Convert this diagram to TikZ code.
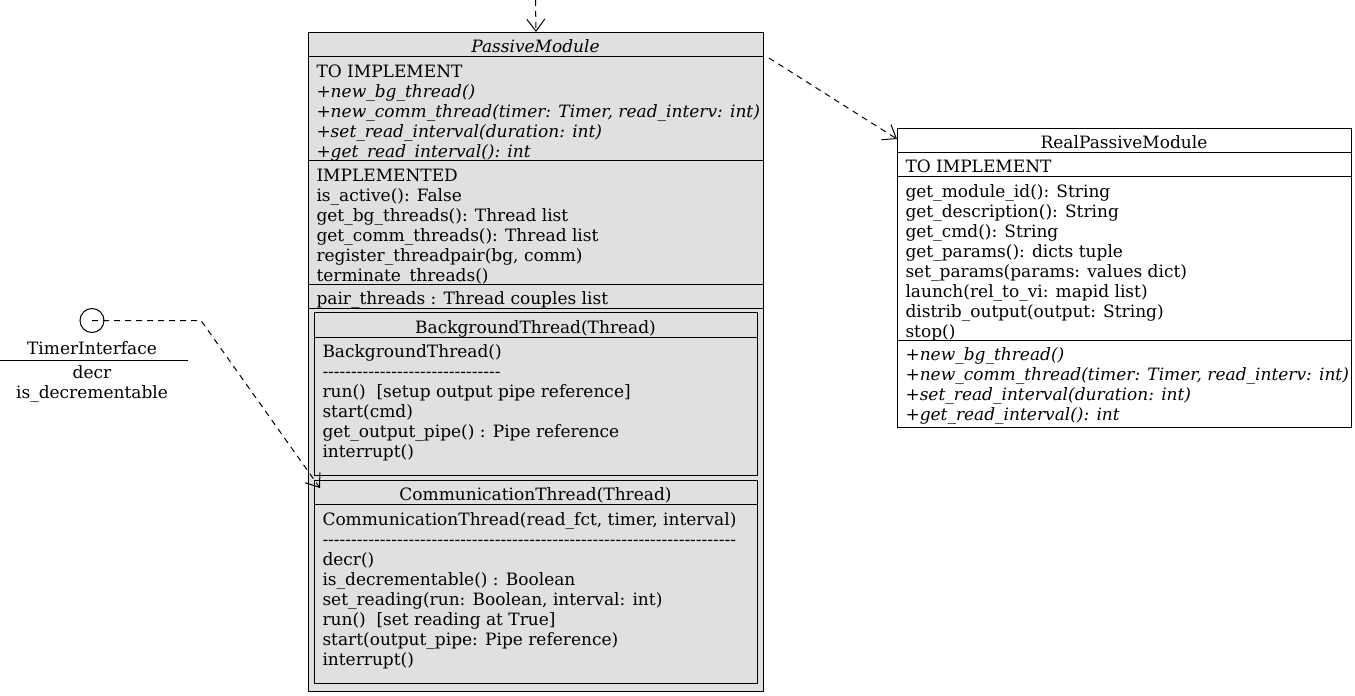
\documentclass[tikz,border=0pt]{standalone}
\usepackage{fontspec}
\newfontfamily\umlfont{DejaVu Serif}
\usetikzlibrary{arrows.meta}
\usetikzlibrary{positioning}
\definecolor{boxgray}{gray}{0.88}
\tikzset{classbox/.style={draw=black, inner sep=0pt, anchor=north west}}
\tikzset{members/.style={inner sep=0pt, anchor=north west, align=left,
    font=\umlfont\fontsize{17}{20}\selectfont}}
\tikzset{classname/.style={inner sep=0pt, anchor=base,
    font=\umlfont\fontsize{17}{20}\selectfont}}
\tikzset{dep/.style={dash pattern=on 6pt off 5pt,
    -{Straight Barb[length=12pt,width=18pt]}}}
\newcommand{\hyphens}[1]{\foreach \k in {1,...,#1}{-\kern0pt}}

\begin{document}
\begin{tikzpicture}[x=1pt,y=-1pt,line width=1pt]
    \useasboundingbox (0,0) rectangle (1355,696);

    % PassiveModule and its nested thread classes
    \node[classbox, fill=boxgray, minimum width=455, minimum height=659] (pm) at (308,32) {};
    \node[classname] (pmname) at (535.5,52) {\itshape PassiveModule};
    \draw (308,56) -- (763,56);
    \node[members] (pmtodo) at (316,63) {\strut TO IMPLEMENT\\
        \itshape +new\_bg\_thread()\\
        \itshape +new\_comm\_thread(timer: Timer, read\_interv: int)\\
        \itshape +set\_read\_interval(duration: int)\\
        \itshape +get\_read\_interval(): int};
    \draw (308,160) -- (763,160);
    \node[members] (pmdone) at (316,167) {\strut IMPLEMENTED\\
        is\_active(): False\\
        get\_bg\_threads(): Thread list\\
        get\_comm\_threads(): Thread list\\
        register\_threadpair(bg, comm)\\
        terminate\_threads()};
    \draw (308,284) -- (763,284);
    \node[members] (pmattr) at (316,290) {\strut pair\_threads : Thread couples list};
    \draw (308,308) -- (763,308);

    \node[classbox, fill=boxgray, minimum width=443, minimum height=163] (bg) at (314,312) {};
    \node[classname] (bgname) at (535.5,333) {BackgroundThread(Thread)};
    \draw (314,337) -- (757,337);
    \node[members] (bgops) at (322,343) {\strut BackgroundThread()\\
        \hyphens{31}\\
        run()\ \ [setup output pipe reference]\\
        start(cmd)\\
        get\_output\_pipe() : Pipe reference\\
        interrupt()};

    \node[classbox, fill=boxgray, minimum width=443, minimum height=203] (ct) at (314,480) {};
    \node[classname] (ctname) at (535.5,500) {CommunicationThread(Thread)};
    \draw (314,504) -- (757,504);
    \node[members] (ctops) at (322,511) {\strut CommunicationThread(read\_fct, timer, interval)\\
        \hyphens{72}\\
        decr()\\
        is\_decrementable() : Boolean\\
        set\_reading(run: Boolean, interval: int)\\
        run()\ \ [set reading at True]\\
        start(output\_pipe: Pipe reference)\\
        interrupt()};

    % RealPassiveModule
    \node[classbox, fill=white, minimum width=454, minimum height=299] (rpm) at (897,128) {};
    \node[classname] (rpmname) at (1124,148) {RealPassiveModule};
    \draw (897,152) -- (1351,152);
    \node[members] (rpmtodo) at (905,158) {\strut TO IMPLEMENT};
    \draw (897,176) -- (1351,176);
    \node[members] (rpmops) at (905,183) {\strut get\_module\_id(): String\\
        get\_description(): String\\
        get\_cmd(): String\\
        get\_params(): dicts tuple\\
        set\_params(params: values dict)\\
        launch(rel\_to\_vi: mapid list)\\
        distrib\_output(output: String)\\
        stop()};
    \draw (897,340) -- (1351,340);
    \node[members, font=\umlfont\itshape\fontsize{17}{20}\selectfont] (rpmabs) at (905,346) {\strut +new\_bg\_thread()\\
        +new\_comm\_thread(timer: Timer, read\_interv: int)\\
        +set\_read\_interval(duration: int)\\
        +get\_read\_interval(): int};

    % TimerInterface lollipop
    \node[draw, circle, minimum size=24, inner sep=0pt] (ti) at (92,320.5) {};
    \node[classname] (tiname) at (92,354) {TimerInterface};
    \draw (0,360) -- (188,360);
    \node[members, anchor=north, align=center] (tiops) at (92,364) {\strut decr\\ is\_decrementable};

    % dependencies
    \coordinate (above) at (535.5,0);
    \coordinate (tbend) at (201,320.5);
    \draw[dep] (above) -- (pm.north);
    \draw[dep] ([shift={(5pt,-26pt)}]pm.north east) -- ([yshift=-11pt]rpm.north west);
    \draw[dep] (ti.center) -- (tbend) -- ([shift={(6pt,-8pt)}]ct.north west);
\end{tikzpicture}
\end{document}
